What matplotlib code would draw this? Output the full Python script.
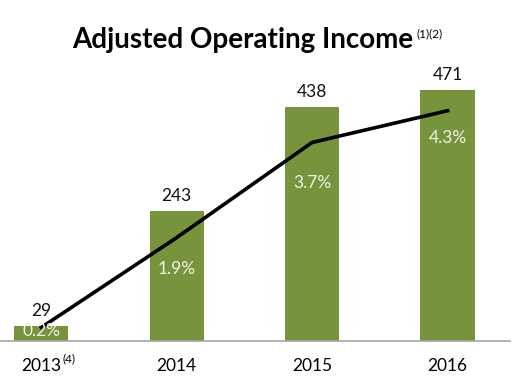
import matplotlib
matplotlib.use("Agg")
import matplotlib.pyplot as plt

plt.rcParams['font.family'] = ['Lato', 'DejaVu Sans']

years = ['2013', '2014', '2015', '2016']
year_notes = ['(4)', '', '', '']
income = [29, 243, 438, 471]
margin = [0.2, 1.9, 3.7, 4.3]

fig = plt.figure(figsize=(5.15, 3.83), dpi=100)
ax = fig.add_axes([0.0, 0.1097, 0.99, 0.7337])
x = range(len(years))

ax.bar(x, income, width=0.40, color='#77933C', zorder=1)
for xi, v in zip(x, income):
    ax.annotate(str(v), (xi, v), xytext=(0, 5), textcoords='offset points',
                ha='center', va='bottom', fontsize=12.5, color='#111111')

ax.set_xlim(-0.305, 3.46)
ax.set_ylim(0, 527)
ax.set_xticks(list(x))
ax.set_xticklabels(years, fontsize=12.5)
ax.tick_params(axis='x', length=0, pad=12)
ax.set_yticks([])
for s in ['top', 'right', 'left']:
    ax.spines[s].set_visible(False)
ax.spines['bottom'].set_color('#a6a6a6')
ax.spines['bottom'].set_linewidth(1.2)

ax2 = ax.twinx()
ax2.plot(list(x), margin, color='black', linewidth=2.6, zorder=3)
ax2.set_ylim(-0.056, 5.26)
ax2.set_yticks([])
for s in ax2.spines.values():
    s.set_visible(False)
for xi, m, dy in zip(x, margin, [-4, -31, -41, -27]):
    ax2.annotate(f'{m}%', (xi, m), xytext=(0, dy * 0.72), textcoords='offset points',
                 ha='center', va='center', fontsize=12.5, color='#F0F2E4', zorder=4)

title = fig.text(0.472, 0.896, 'Adjusted Operating Income', ha='center', va='center',
                 fontsize=20, fontweight='bold', color='black')
fig.canvas.draw()
inv = fig.transFigure.inverted()
bb = title.get_window_extent().transformed(inv)
fig.text(bb.x1 + 0.006, 0.912, '(1)(2)', ha='left', va='center', fontsize=8.5, color='black')

# superscript notes after the year labels
for lab, note in zip(ax.get_xticklabels(), year_notes):
    if note:
        lb = lab.get_window_extent().transformed(inv)
        fig.text(lb.x1 + 0.002, lb.y1 - 0.004, note, ha='left', va='center',
                 fontsize=8.5, color='black')

fig.savefig('out.png', dpi=100)
